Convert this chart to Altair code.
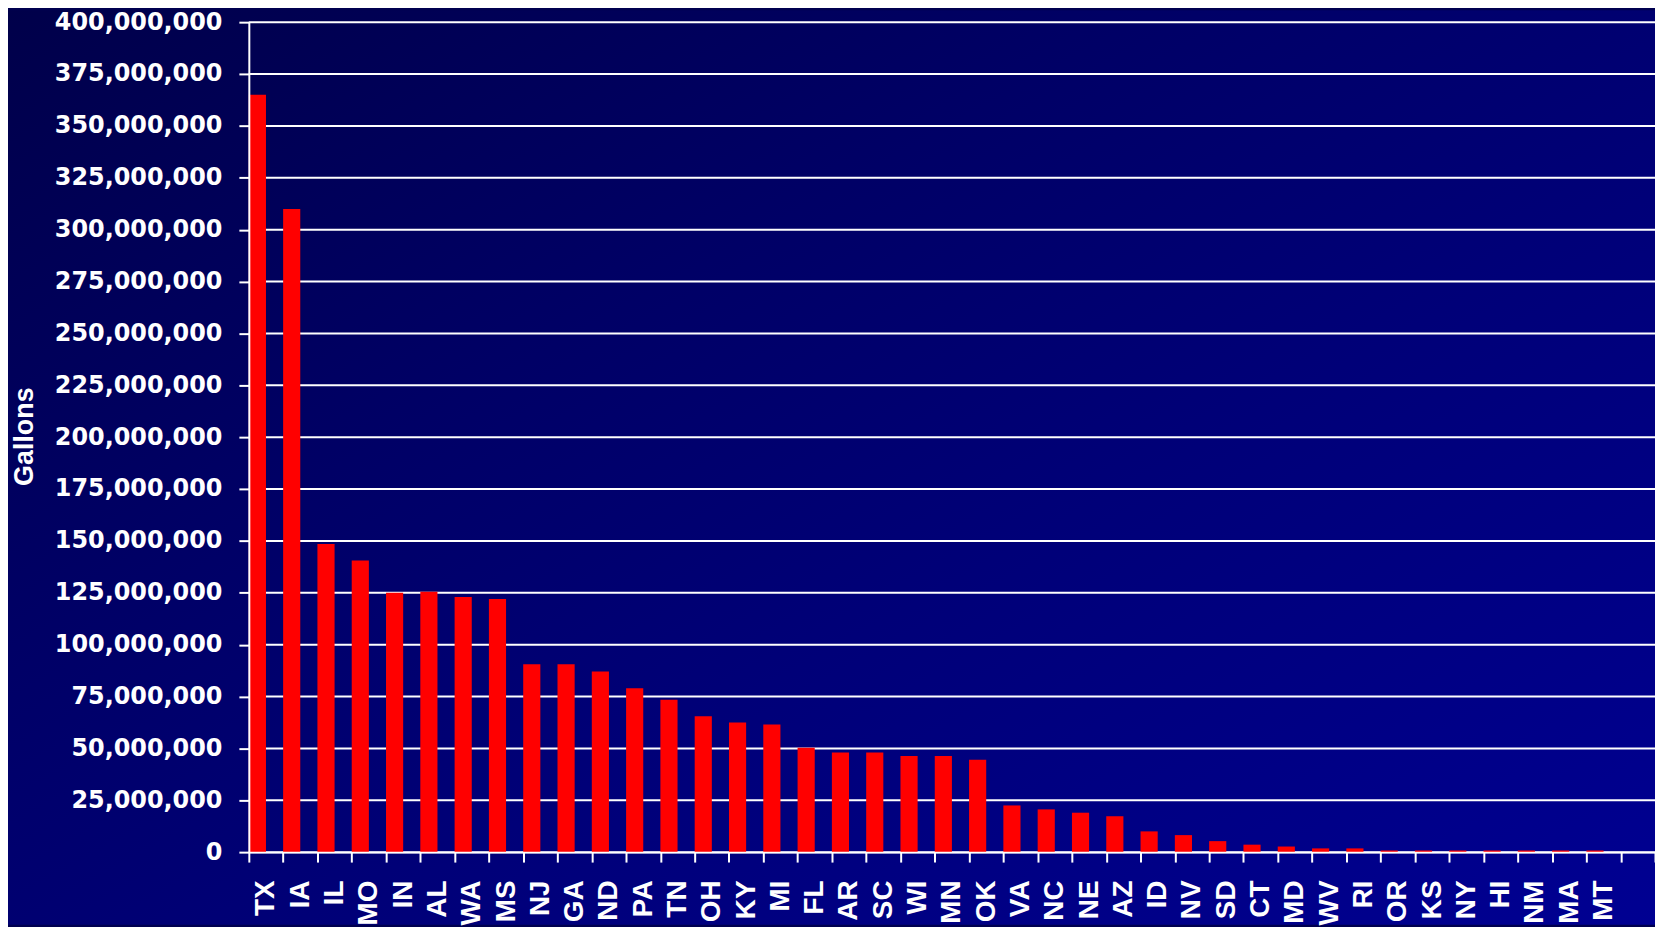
import altair as alt
import pandas as pd

states = ["TX", "IA", "IL", "MO", "IN", "AL", "WA", "MS", "NJ", "GA",
          "ND", "PA", "TN", "OH", "KY", "MI", "FL", "AR", "SC", "WI",
          "MN", "OK", "VA", "NC", "NE", "AZ", "ID", "NV", "SD", "CT",
          "MD", "WV", "RI", "OR", "KS", "NY", "HI", "NM", "MA", "MT"]
gallons = [365_000_000, 310_000_000, 148_500_000, 140_500_000, 125_000_000,
           125_500_000, 123_000_000, 122_000_000, 90_500_000, 90_500_000,
           87_000_000, 79_000_000, 73_500_000, 65_500_000, 62_500_000,
           61_500_000, 50_300_000, 48_000_000, 48_000_000, 46_300_000,
           46_300_000, 44_500_000, 22_500_000, 20_600_000, 19_000_000,
           17_300_000, 10_000_000, 8_200_000, 5_300_000, 3_600_000,
           2_700_000, 1_800_000, 1_800_000, 800_000, 800_000,
           800_000, 800_000, 800_000, 800_000, 800_000]
y_ticks = [0, 25_000_000, 50_000_000, 75_000_000, 100_000_000, 125_000_000,
           150_000_000, 175_000_000, 200_000_000, 225_000_000, 250_000_000,
           275_000_000, 300_000_000, 325_000_000, 350_000_000, 375_000_000,
           400_000_000]

x_domain = states + ["_"]

df = pd.DataFrame({"state": states, "gallons": gallons, "series": "Gallons"})
ticks_df = pd.DataFrame({"gallons": y_ticks})

W, H = 1413, 834
PAD = {"left": 242, "top": 12, "right": 0, "bottom": 73}

y_axis = alt.Axis(
    values=y_ticks, format=",d",
    labelFont="DejaVu Sans", labelFontSize=24, labelFontWeight="bold",
    labelColor="white", labelPadding=17,
    tickColor="white", tickSize=10, tickWidth=2,
    domainColor="white", domainWidth=2, grid=False,
    title="Gallons", titleFont="Liberation Sans", titleFontSize=27,
    titleFontWeight="bold", titleColor="white",
    titleX=-211, titleY=416, titleAngle=270, titleAlign="center",
    titleBaseline="bottom", zindex=2,
)
y_scale = alt.Scale(domain=[0, 400_000_000], nice=False)

x_axis = alt.Axis(
    title=None, labelAngle=270, labelFont="Liberation Sans", labelFontSize=28,
    labelFontWeight="bold", labelColor="white", labelPadding=18,
    labelOverlap=False, labelBound=False,
    labelExpr="datum.value == '_' ? '' : datum.value",
    tickBand="extent", tickColor="white", tickSize=10, tickWidth=2,
    domainColor="white", domainWidth=2, grid=False, zindex=2,
)

bg = alt.Chart(alt.Data(values=[{}])).mark_rect(
    color=alt.LinearGradient(
        gradient="linear",
        stops=[
            alt.GradientStop(color="#00004a", offset=0),
            alt.GradientStop(color="#000066", offset=0.35),
            alt.GradientStop(color="#000078", offset=0.6),
            alt.GradientStop(color="#000092", offset=1),
        ],
        x1=0, y1=0, x2=1, y2=1,
    )
).encode(
    x=alt.value(-PAD["left"]), x2=alt.value(W + PAD["right"]),
    y=alt.value(-PAD["top"]), y2=alt.value(H + PAD["bottom"]),
)

grid = alt.Chart(ticks_df).mark_rule(color="white", strokeWidth=2).encode(
    y=alt.Y("gallons:Q", scale=y_scale, axis=y_axis),
)

bars = alt.Chart(df).mark_bar(color="#ff0000").encode(
    x=alt.X("state:N", sort=None,
            scale=alt.Scale(domain=x_domain, paddingInner=0, paddingOuter=0),
            axis=x_axis),
    xOffset=alt.XOffset("series:N",
                        scale=alt.Scale(domain=["Gallons", "blank"],
                                        paddingInner=0, paddingOuter=0)),
    y=alt.Y("gallons:Q", scale=y_scale, axis=y_axis),
)

chart = alt.layer(bg, grid, bars).properties(
    width=W, height=H, padding=PAD,
    autosize=alt.AutoSizeParams(type="none"),
    background="#000050",
).configure_view(stroke=None)

chart.save("out.html", embed_options={"renderer": "svg", "actions": False})
